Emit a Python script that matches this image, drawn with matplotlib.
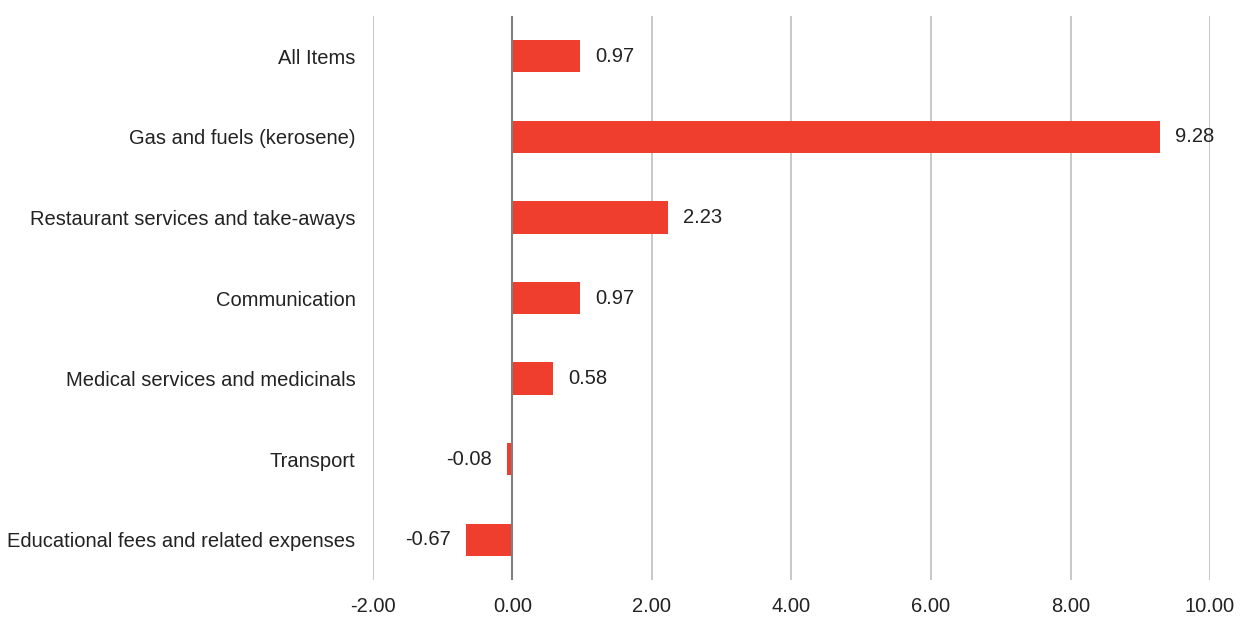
import matplotlib.pyplot as plt

categories = [
    "All Items",
    "Gas and fuels (kerosene)",
    "Restaurant services and take-aways",
    "Communication",
    "Medical services and medicinals",
    "Transport",
    "Educational fees and related expenses",
]
values = [0.97, 9.28, 2.23, 0.97, 0.58, -0.08, -0.67]
xticks = [-2, 0, 2, 4, 6, 8, 10]

plt.rcParams["font.family"] = ["Liberation Sans", "DejaVu Sans"]
fs = 14.5

fig = plt.figure(figsize=(12.44, 6.17), dpi=100)
ax = fig.add_axes([0.2998, 0.06, 0.6729, 0.914])

pos = list(range(len(categories)))
ax.barh(pos, values, height=0.4, color="#EF3E2D", zorder=3)

for y, v in zip(pos, values):
    if v >= 0:
        ax.text(v + 0.22, y, f"{v:.2f}", va="center", ha="left", fontsize=fs, color="#222222")
    else:
        ax.text(v - 0.22, y, f"{v:.2f}", va="center", ha="right", fontsize=fs, color="#222222")

ax.set_xlim(-2, 10)
ax.set_ylim(len(categories) - 0.5, -0.5)
ax.set_xticks(xticks)
ax.set_xticklabels([f"{t:.2f}" for t in xticks], fontsize=fs, color="#222222")
ax.set_yticks(pos)
ax.set_yticklabels(categories, fontsize=fs, color="#222222")
ax.tick_params(axis="both", length=0)
ax.tick_params(axis="x", pad=12)
ax.tick_params(axis="y", pad=12.5)

ax.grid(axis="x", color="#BFBFBF", linewidth=1.2, zorder=0)
ax.axvline(0, color="#7F7F7F", linewidth=1.5, zorder=4)
for s in ax.spines.values():
    s.set_visible(False)

fig.savefig("out.png", dpi=100)
